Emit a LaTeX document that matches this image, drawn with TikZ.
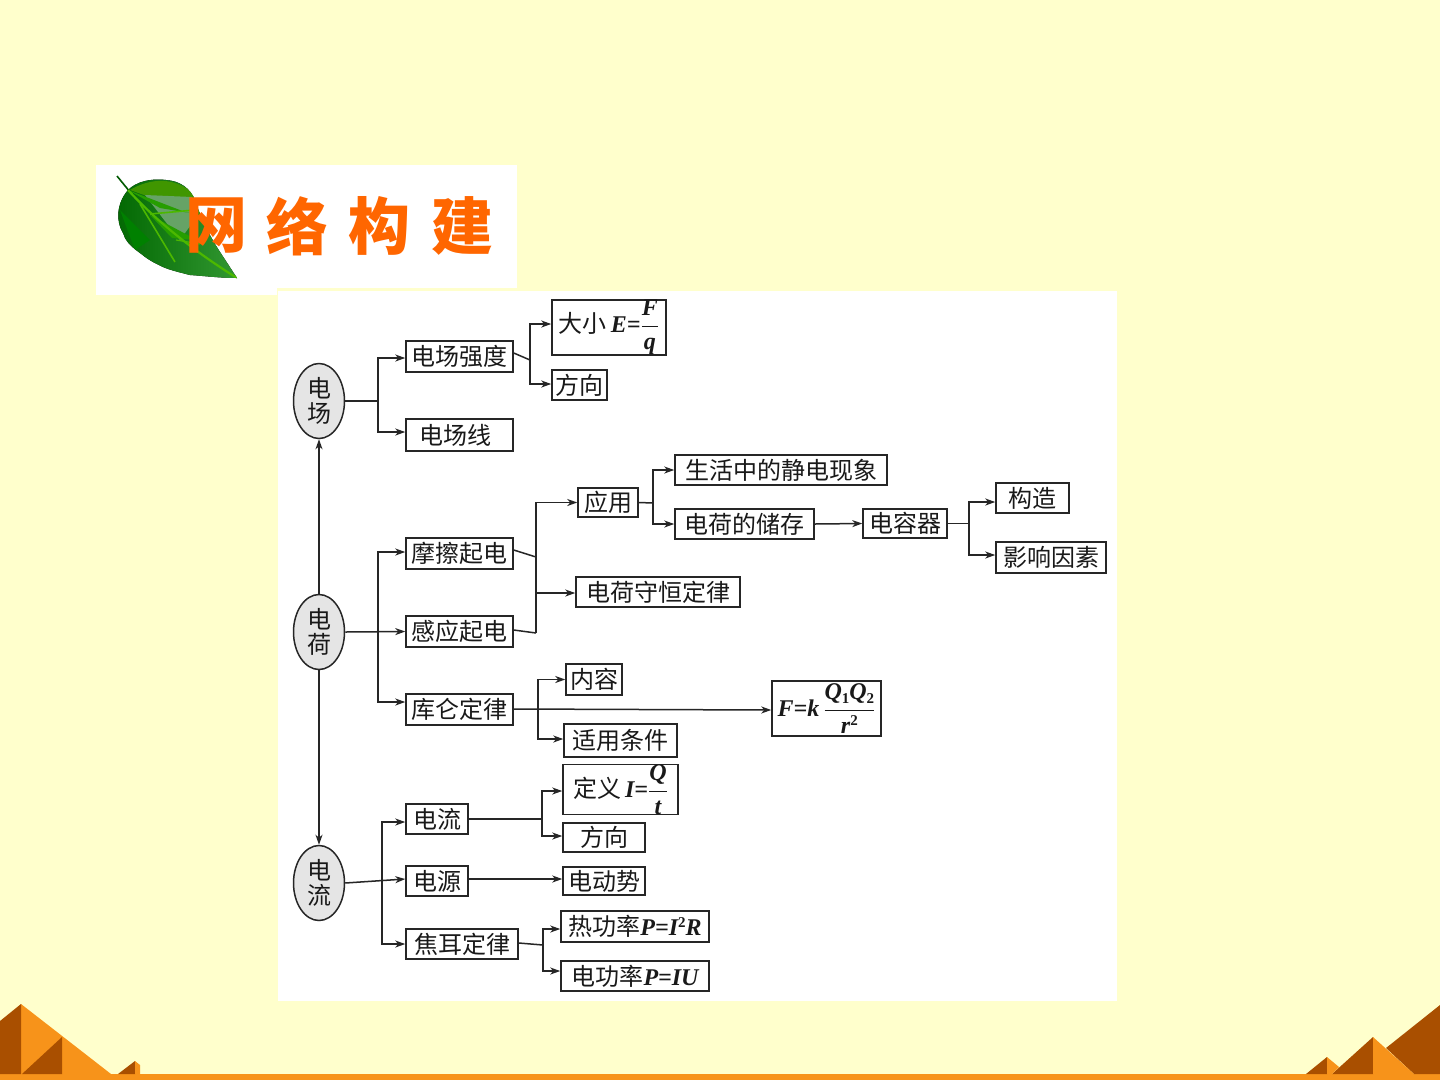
\documentclass[tikz,border=0pt]{standalone}
\usepackage{fontspec}
\setmainfont{Noto Sans CJK SC}
\newfontfamily\latinface{Liberation Serif}
\usetikzlibrary{arrows.meta,shapes.geometric}
\newcommand{\mv}[1]{\mbox{\latinface\bfseries\itshape #1}}
\newcommand{\mvs}[1]{\mbox{\fontsize{15}{15}\selectfont\latinface\bfseries #1}}
\definecolor{paper}{HTML}{FFFFCC}
\definecolor{band}{HTML}{F7931A}
\definecolor{umber}{HTML}{A94F00}
\definecolor{titleorange}{HTML}{FF6600}
\tikzset{
  x=1pt,y=-1pt,
  bx/.style={draw=black!85,line width=1.5pt,fill=white,inner sep=0pt,text=black!90,
    font=\fontsize{24}{26}\selectfont},
  oval/.style={ellipse,draw=black!85,line width=1.5pt,fill=black!10,inner sep=0pt,
    minimum width=51pt,minimum height=75pt,align=center,text=black!90,
    font=\fontsize{24}{25}\selectfont},
  ln/.style={draw=black!85,line width=1.5pt},
  ar/.style={ln,-{Stealth[length=10pt,width=7pt,inset=3pt]}},
  ttl/.style={text=titleorange,inner sep=0pt,font=\fontsize{62}{62}\selectfont\bfseries},
}
\begin{document}
\begin{tikzpicture}
\useasboundingbox (0,0) rectangle (1440,1080);
\fill[paper] (0,0) rectangle (1440,1080);

% ground band and pyramids
\fill[band] (0,1074) rectangle (1440,1080);
\fill[band] (21,1004) -- (111,1074) -- (21,1074) -- cycle;
\fill[umber] (0,1021) -- (21,1004) -- (21,1074) -- (0,1074) -- cycle;
\fill[umber] (62,1037) -- (62,1074) -- (22,1074) -- cycle;
\fill[umber] (118,1074) -- (135,1061) -- (135,1074) -- cycle;
\fill[band] (135,1061) -- (140,1065) -- (140,1074) -- (135,1074) -- cycle;
\fill[umber] (1386,1048) -- (1440,1005) -- (1440,1074) -- (1414,1074) -- cycle;
\fill[umber] (1332,1074) -- (1373,1037) -- (1373,1074) -- cycle;
\fill[band] (1373,1037) -- (1414,1074) -- (1373,1074) -- cycle;
\fill[umber] (1306,1074) -- (1327,1057) -- (1327,1074) -- cycle;
\fill[band] (1327,1057) -- (1339,1067) -- (1332,1074) -- (1327,1074) -- cycle;

% heading plate and diagram panel
\fill[white] (96,165) rectangle (517,288);
\fill[white] (96,288) rectangle (277,295);
\fill[white] (278,291) rectangle (1117,1001);

% leaf
\draw[green!35!black,line width=1.6pt] (117,176) -- (130,192);
\begin{scope}
\clip (128,190) .. controls (136,182) and (150,178) .. (166,180)
  .. controls (180,181) and (190,188) .. (195,200)
  .. controls (202,222) and (212,240) .. (222,255)
  -- (237,278) .. controls (220,278) and (205,276) .. (190,275)
  .. controls (178,272) and (170,270) .. (163,267)
  .. controls (152,262) and (146,258) .. (140,253)
  .. controls (130,246) and (125,240) .. (123,233)
  .. controls (116,222) and (116,204) .. (128,190) -- cycle;
\fill[left color=green!40!black,right color=green!50!black!80] (110,170) rectangle (240,280);
\fill[green!45!black!75!yellow] (130,190) .. controls (150,178) and (175,176) .. (195,195) -- (200,215) -- cycle;
\fill[black!60!green!60] (145,195) -- (192,197) -- (198,215) -- (180,240) -- (168,225) -- cycle;
\fill[green!55!black!85!yellow] (128,190) -- (185,212) -- (196,214) -- (160,208) -- cycle;
\fill[green!55!black!85!yellow] (150,215) -- (197,240) -- (172,238) -- cycle;
\fill[green!50!black] (120,210) -- (150,240) -- (135,250) -- cycle;
\draw[green!60!black!70!yellow,line width=2.2pt] (128,190) .. controls (160,225) and (200,255) .. (237,278);
\draw[green!60!black!70!yellow,line width=1.6pt] (140,204) -- (175,262);
\draw[green!60!black!70!yellow,line width=1.6pt] (150,214) -- (195,210);
\draw[green!60!black!70!yellow,line width=1.2pt] (176,240) -- (200,244);
\end{scope}

% heading characters
\node[ttl] (h1) at (216,226) {网};
\node[ttl] (h2) at (297,226) {络};
\node[ttl] (h3) at (379,226) {构};
\node[ttl] (h4) at (462,226) {建};

% main concepts
\node[oval] (efield) at (319,401) {电\\场};
\node[oval] (charge) at (319,632) {电\\荷};
\node[oval] (current) at (319,883) {电\\流};

% electric field branch
\node[bx,minimum width=107pt,minimum height=31pt] (strength) at (459.5,356.5) {电场强度};
\node[bx,minimum width=114pt,minimum height=47pt] (size) at (609,327.5) {大小\,\mv{E}\mv{=}$\displaystyle\frac{\mv{F}}{\mv{q}}$};
\node[bx,minimum width=55pt,minimum height=30pt] (dirE) at (579.5,385) {方向};
\node[bx,minimum width=107pt,minimum height=32pt] (lines) at (459.5,435) {\hspace{-8pt}电场线};

% charge branch
\node[bx,minimum width=107pt,minimum height=31pt] (friction) at (459.5,553.5) {摩擦起电};
\node[bx,minimum width=107pt,minimum height=31pt] (induct) at (459.5,631.5) {感应起电};
\node[bx,minimum width=107pt,minimum height=31pt] (coulomb) at (459.5,709.5) {库仑定律};
\node[bx,minimum width=60pt,minimum height=29pt] (apply) at (608,502.5) {应用};
\node[bx,minimum width=164pt,minimum height=30pt] (conserve) at (658,592) {电荷守恒定律};
\node[bx,minimum width=212pt,minimum height=30pt] (daily) at (781,470) {生活中的静电现象};
\node[bx,minimum width=139pt,minimum height=30pt] (store) at (744.5,524) {电荷的储存};
\node[bx,minimum width=84pt,minimum height=29pt] (capac) at (905,523.5) {电容器};
\node[bx,minimum width=73pt,minimum height=30pt] (build) at (1032.5,498) {构造};
\node[bx,minimum width=110pt,minimum height=31pt] (factor) at (1051,557.5) {影响因素};
\node[bx,minimum width=56pt,minimum height=31pt] (content) at (594,679.5) {内容};
\node[bx,minimum width=113pt,minimum height=33pt] (cond) at (620.5,740.5) {适用条件};
\node[bx,minimum width=109pt,minimum height=55pt] (flaw) at (826.5,708.5)
  {\mv{F}\mv{=}\mv{k}\,$\displaystyle\frac{\mv{Q}\raisebox{-4pt}{\mvs{1}}\mv{Q}\raisebox{-4pt}{\mvs{2}}}{\mv{r}\raisebox{8pt}{\mvs{2}}}$};

% current branch
\node[bx,minimum width=62pt,minimum height=30pt] (flow) at (437,819) {电流};
\node[bx,minimum width=62pt,minimum height=30pt] (source) at (437,881) {电源};
\node[bx,minimum width=112pt,minimum height=30pt] (joule) at (462,944) {焦耳定律};
\node[bx,minimum width=115pt,minimum height=49pt] (defI) at (620.5,789.5) {定义\,\mv{I}\mv{=}$\displaystyle\frac{\mv{Q}}{\mv{t}}$};
\node[bx,minimum width=82pt,minimum height=29pt] (dirI) at (604,837.5) {方向};
\node[bx,minimum width=82pt,minimum height=28pt] (emf) at (604,881) {电动势};
\node[bx,minimum width=148pt,minimum height=31pt] (heat) at (635,926.5) {热功率\mv{P}\mv{=}\mv{I}\raisebox{8pt}{\mvs{2}}\mv{R}};
\node[bx,minimum width=148pt,minimum height=30pt] (power) at (635,976) {电功率\mv{P}\mv{=}\mv{IU}};

% links between the three concepts
\draw[ar] (charge.north) -- (efield.south);
\draw[ar] (charge.south) -- (current.north);

% connectors of the field branch
\coordinate (jA) at (378,401);
\draw[ln] (efield.east) -- (jA);
\draw[ar] (jA) |- ([yshift=-1.5pt]strength.west);
\draw[ar] (jA) |- ([yshift=3pt]lines.west);
\coordinate (jB) at (530,360);
\draw[ln] ([yshift=3.5pt]strength.east) -- (jB);
\draw[ar] (jB) |- ([yshift=3.5pt]size.west);
\draw[ar] (jB) |- ([yshift=1pt]dirE.west);

% connectors of the charge branch
\coordinate (jC) at (378,632);
\draw[ar] (charge.east) -- (induct.west);
\draw[ar] (jC) |- ([yshift=1.5pt]friction.west);
\draw[ar] (jC) |- ([yshift=7.5pt]coulomb.west);
\coordinate (jD) at (536,557);
\coordinate (jE) at (536,633);
\coordinate (jF) at (536,593);
\draw[ln] ([yshift=3.5pt]friction.east) -- (jD);
\draw[ln] ([yshift=1.5pt]induct.east) -- (jE);
\draw[ln] (jE) -- (jD);
\draw[ar] (jD) |- (apply.west);
\draw[ar] (jF) -- (conserve.west |- jF);
\coordinate (jG) at (653,503);
\draw[ln] (apply.east) -- (jG);
\draw[ar] (jG) |- (daily.west);
\draw[ar] (jG) |- (store.west);
\draw[ar] (store.east) -- (capac.west);
\coordinate (jH) at (969,523.5);
\draw[ln] (capac.east) -- (jH);
\draw[ar] (jH) |- ([yshift=-4pt]build.west);
\draw[ar] (jH) |- ([yshift=2.5pt]factor.west);
\coordinate (jI) at (538,710);
\draw[ar] ([yshift=.5pt]coulomb.east) -- (flaw.west |- jI);
\draw[ar] (jI) |- (content.west);
\draw[ar] (jI) |- ([yshift=1.5pt]cond.west);

% connectors of the current branch
\coordinate (jJ) at (382,883);
\draw[ar] (current.east) -- ([yshift=2pt]source.west);
\draw[ar] (jJ) |- ([yshift=-3pt]flow.west);
\draw[ar] (jJ) |- (joule.west);
\coordinate (jK) at (542,819);
\draw[ln] (flow.east) -- (jK);
\draw[ar] (jK) |- ([yshift=-1.5pt]defI.west);
\draw[ar] (jK) |- ([yshift=1.5pt]dirI.west);
\draw[ar] ([yshift=2pt]source.east) -- ([yshift=2pt]emf.west);
\coordinate (jL) at (543,945);
\draw[ln] ([yshift=1pt]joule.east) -- (jL);
\draw[ar] (jL) |- ([yshift=-2.5pt]heat.west);
\draw[ar] (jL) |- ([yshift=5pt]power.west);
\end{tikzpicture}
\end{document}
